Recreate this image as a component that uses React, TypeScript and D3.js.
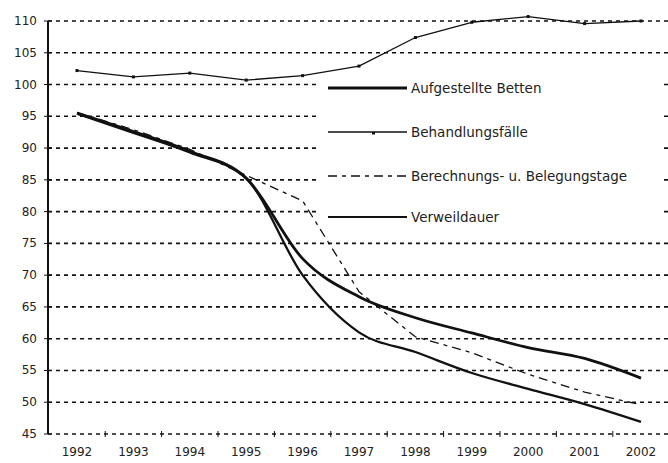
import React from "react";
import * as d3 from "d3";

const years = ["1992","1993","1994","1995","1996","1997","1998","1999","2000","2001","2002"];
const yTicks = [45,50,55,60,65,70,75,80,85,90,95,100,105,110];

const aufgestellteBetten = [95.5, 92.6, 89.5, 85.3, 72.6, 66.6, 63.3, 60.9, 58.6, 56.9, 53.8];
const behandlungsfaelle = [102.2, 101.2, 101.8, 100.7, 101.4, 102.9, 107.4, 109.8, 110.7, 109.6, 110.0];
const berechnungstage = [95.6, 92.9, 89.8, 85.7, 81.7, 67.4, 60.3, 57.8, 54.4, 51.6, 49.6];
const verweildauer = [95.4, 92.4, 89.3, 85.2, 70.0, 61.0, 57.9, 54.6, 52.1, 49.7, 46.9];

const seriesNames = ["Aufgestellte Betten", "Behandlungsfälle", "Berechnungs- u. Belegungstage", "Verweildauer"];

export default function App() {
  const W = 668, H = 463;
  const x = d3.scalePoint<string>().domain(years).range([77, 641]);
  const y = d3.scaleLinear().domain([45, 110]).range([434, 21]);
  const step = x.step();
  const mk = (curve: d3.CurveFactory) => d3.line<number>()
    .x((_, i) => x(years[i]) as number)
    .y((d) => y(d))
    .curve(curve);
  const smooth = mk(d3.curveMonotoneX);
  const straight = mk(d3.curveLinear);

  const styles = [
    { data: aufgestellteBetten, width: 2.8, dash: "none", gen: smooth },
    { data: behandlungsfaelle, width: 1.3, dash: "none", gen: straight },
    { data: berechnungstage, width: 1.3, dash: "9,5,4,5", gen: straight },
    { data: verweildauer, width: 2.3, dash: "none", gen: smooth },
  ];

  const legendX0 = 328, legendX1 = 407;
  const legendY = [88, 132, 176, 217];
  const legendWidths = [3, 1.3, 1.3, 1.8];

  return (
    <svg width={W} height={H} style={{ position: "absolute", left: 0, top: 0, background: "#fff" }}
      fontFamily="DejaVu Sans, sans-serif">
      <rect x={0} y={0} width={W} height={H} fill="#fff" />
      {yTicks.map((t) => (
        <line key={"g" + t} x1={48} x2={W} y1={y(t)} y2={y(t)} stroke="#111"
          strokeWidth={1.6} strokeDasharray="4,4" />
      ))}
      <rect x={318} y={70} width={342} height={158} fill="#fff" />
      <line x1={48} x2={48} y1={y(110)} y2={y(45)} stroke="#111" strokeWidth={2} />
      {yTicks.map((t) => (
        <g key={"yt" + t}>
          <line x1={44} x2={52} y1={y(t)} y2={y(t)} stroke="#111" strokeWidth={1} />
          <text x={37} y={y(t)} textAnchor="end" dominantBaseline="central" fontSize={12} fill="#222">{t}</text>
        </g>
      ))}
      {years.slice(0, -1).map((yr) => (
        <line key={"xt" + yr} x1={(x(yr) as number) + step / 2} x2={(x(yr) as number) + step / 2}
          y1={431} y2={437} stroke="#111" strokeWidth={1} />
      ))}
      {years.map((yr) => (
        <text key={"xl" + yr} x={x(yr) as number} y={452} textAnchor="middle" dominantBaseline="central"
          fontSize={12} fill="#222">{yr}</text>
      ))}
      {styles.map((s, i) => (
        <path key={"s" + i} d={s.gen(s.data) || ""} fill="none" stroke="#111" strokeWidth={s.width}
          strokeDasharray={s.dash} strokeLinejoin="round" />
      ))}
      {behandlungsfaelle.map((v, i) => (
        <rect key={"m" + i} x={(x(years[i]) as number) - 1.5} y={y(v) - 1.5} width={3} height={3} fill="#111" />
      ))}
      {seriesNames.map((n, i) => (
        <g key={"lg" + i}>
          <line x1={legendX0} x2={legendX1} y1={legendY[i]} y2={legendY[i]} stroke="#111"
            strokeWidth={legendWidths[i]} strokeDasharray={styles[i].dash} />
          {i === 1 && <rect x={372} y={legendY[i]} width={3} height={2.5} fill="#111" />}
          <text x={411} y={legendY[i]} dominantBaseline="central" fontSize={13.5} fill="#222">{n}</text>
        </g>
      ))}
    </svg>
  );
}
